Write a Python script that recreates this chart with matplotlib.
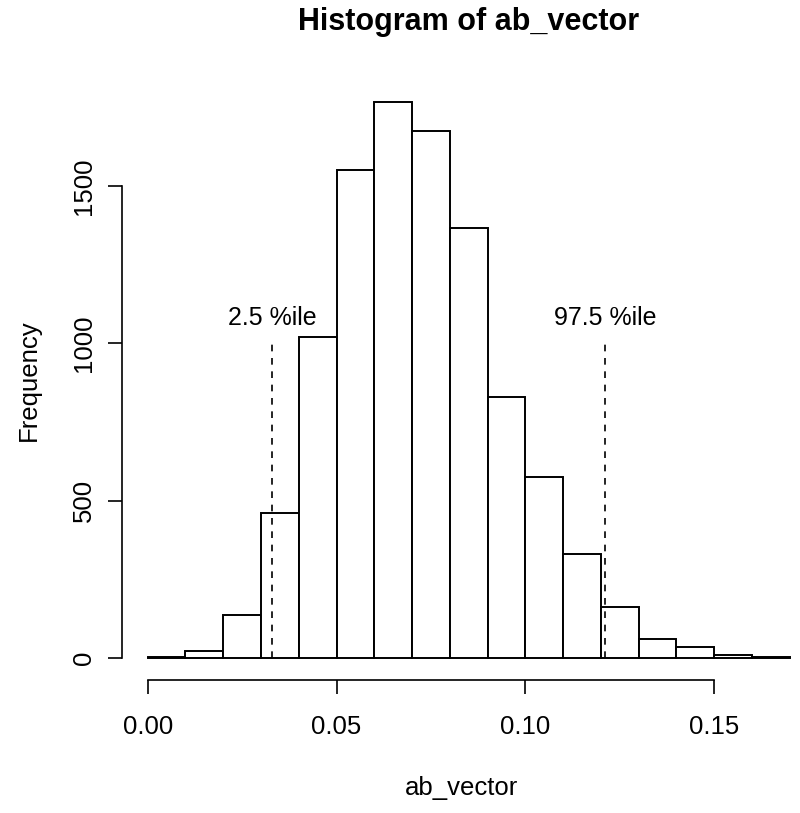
import numpy as np
import matplotlib
matplotlib.use('Agg')
import matplotlib.pyplot as plt

plt.rcParams['font.family'] = ['Liberation Sans', 'DejaVu Sans']

# histogram data (bins of 0.01 from 0 to 0.17)
breaks = [0.00, 0.01, 0.02, 0.03, 0.04, 0.05, 0.06, 0.07, 0.08, 0.09,
          0.10, 0.11, 0.12, 0.13, 0.14, 0.15, 0.16, 0.17]
counts = [3, 22, 137, 461, 1020, 1551, 1767, 1675, 1367, 830,
          575, 331, 162, 60, 35, 10, 3]
quantiles = [0.0329, 0.1211]
qlabels = ['2.5 %ile', '97.5 %ile']
xticks = [0.00, 0.05, 0.10, 0.15]
xticklabels = ['0.00', '0.05', '0.10', '0.15']
yticks = [0, 500, 1000, 1500]

W, H = 800, 813
fig = plt.figure(figsize=(W / 100, H / 100), dpi=100)
# plot region in pixels: left 122, right 800, top 80, bottom 680
ax = fig.add_axes([122 / W, (H - 680) / H, (800 - 122) / W, 600 / H])

edges = np.array(breaks)
ax.bar(edges[:-1], counts, width=np.diff(edges), align='edge',
       facecolor='white', edgecolor='black', linewidth=1.4)

for q, lab in zip(quantiles, qlabels):
    ax.plot([q, q], [0, 1000], color='black', linestyle=(0, (4, 4)), linewidth=1.2)
    ax.text(q, 1080, lab, ha='center', va='center', fontsize=18)

ax.set_xlim(-0.0068, 0.1727)
ax.set_ylim(-70.7, 1837.7)

for s in ['top', 'right']:
    ax.spines[s].set_visible(False)
ax.spines['left'].set_bounds(0, 1500)
ax.spines['bottom'].set_bounds(0, 0.15)
for s in ['left', 'bottom']:
    ax.spines[s].set_linewidth(1.2)

ax.set_xticks(xticks)
ax.set_xticklabels(xticklabels)
ax.set_yticks(yticks)
ax.set_yticklabels([str(v) for v in yticks], rotation=90, va='center')
ax.tick_params(direction='out', length=10, width=1.2, labelsize=18.5)
ax.tick_params(axis='x', pad=15)
ax.tick_params(axis='y', pad=9)

ax.set_xlabel('ab_vector', fontsize=18.5, labelpad=27)
ax.set_ylabel('Frequency', fontsize=18.5, labelpad=22)
fig.text(469 / W, 1 - 22 / H, 'Histogram of ab_vector', ha='center', va='center',
         fontsize=22, fontweight='bold')

fig.savefig('out.png', dpi=100)
